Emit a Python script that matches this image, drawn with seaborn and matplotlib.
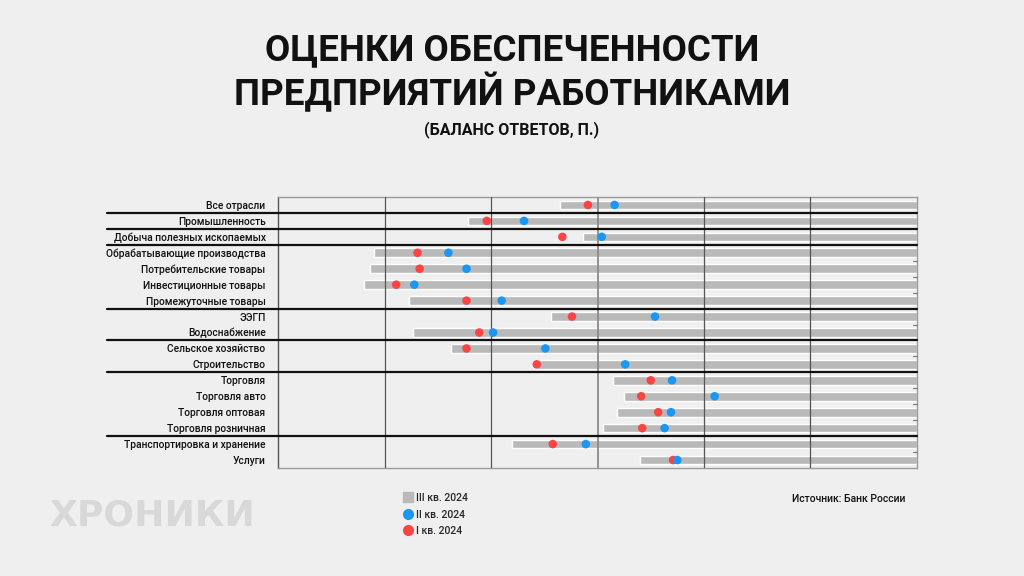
import matplotlib
matplotlib.use("Agg")
import matplotlib.pyplot as plt
import seaborn as sns
import pandas as pd
import numpy as np
from matplotlib.lines import Line2D

categories = ["Все отрасли", "Промышленность", "Добыча полезных ископаемых",
              "Обрабатывающие производства", "Потребительские товары",
              "Инвестиционные товары", "Промежуточные товары", "ЭЭГП",
              "Водоснабжение", "Сельское хозяйство", "Строительство",
              "Торговля", "Торговля авто", "Торговля оптовая",
              "Торговля розничная", "Транспортировка и хранение", "Услуги"]
q3_2024 = [-3.5, -12.2, -1.4, -21.0, -21.4, -21.9, -17.7, -4.4, -17.3,
           -13.8, -5.7, 1.5, 2.5, 1.8, 0.5, -8.0, 4.0]
q2_2024 = [1.6, -6.9, 0.4, -14.0, -12.3, -17.2, -9.0, 5.4, -9.8,
           -4.9, 2.6, 7.0, 11.0, 6.9, 6.3, -1.1, 7.5]
q1_2024 = [-0.9, -10.4, -3.3, -16.9, -16.7, -18.9, -12.3, -2.4, -11.1,
           -12.3, -5.7, 5.0, 4.1, 5.7, 4.2, -4.2, 7.1]
group_breaks = [1, 2, 3, 7, 9, 11, 15]  # separator after these many rows
legend_labels = ["III кв. 2024", "II кв. 2024", "I кв. 2024"]

BG = "#efefef"
GREY = "#b9b9b9"
BLUE = "#1a96f5"
RED = "#fb4444"
FONT = ["Roboto", "DejaVu Sans"]

sns.set_theme(style="white")
plt.rcParams["font.family"] = FONT

fig = plt.figure(figsize=(10.24, 5.76), dpi=100, facecolor=BG)
ax = fig.add_axes([0.2715, 0.1875, 0.624, 0.4705], facecolor=BG)

n = len(categories)
ypos = np.arange(n)
XMIN, XMAX = -30, 30

ax.barh(ypos, [XMAX - v for v in q3_2024], left=q3_2024, height=0.54,
        color=GREY, zorder=2)

df = pd.DataFrame({"cat": categories, "y": ypos, "q1": q1_2024, "q2": q2_2024})
sns.scatterplot(data=df, x="q1", y="y", ax=ax, color=RED, s=38,
                edgecolor="none", zorder=4, legend=False)
sns.scatterplot(data=df, x="q2", y="y", ax=ax, color=BLUE, s=38,
                edgecolor="none", zorder=5, legend=False)

ax.set_xlim(XMIN, XMAX)
ax.set_ylim(n - 0.5, -0.5)
ax.set_xticks(np.arange(-20, 30, 10))
ax.set_xticklabels([])
ax.tick_params(axis="x", length=0)
for xv in np.arange(-20, 30, 10):
    ax.axvline(xv, color="#555555" if xv != 0 else "#8a8a8a",
               lw=0.9 if xv != 0 else 1.3, zorder=3)

ax.set_yticks(ypos)
ax.set_yticklabels(categories, fontsize=7.4, fontweight="medium",
                   color="#111111")
ax.tick_params(axis="y", length=0, pad=9)
ax.set_xlabel("")
ax.set_ylabel("")

for side in ["top", "right", "bottom", "left"]:
    ax.spines[side].set_color("#9a9a9a")
    ax.spines[side].set_linewidth(1.0)
ax.spines["left"].set_color("#555555")

# small right-side ticks between rows without separators
minor = [i + 0.5 for i in range(n - 1) if (i + 1) not in group_breaks]
for yv in minor:
    ax.plot([XMAX - 0.35, XMAX], [yv, yv], color="#777777", lw=0.8,
            zorder=5, clip_on=False)

# group separators extending into label area
trans = ax.get_yaxis_transform()
for b in group_breaks:
    ax.plot([-0.268, 1.0], [b - 0.5, b - 0.5], transform=trans,
            color="#111111", lw=1.6, clip_on=False, zorder=6)

# titles
fig.text(0.5, 0.913, "ОЦЕНКИ ОБЕСПЕЧЕННОСТИ", ha="center", va="center",
         fontsize=26.5, fontweight="bold", color="#111111")
fig.text(0.5, 0.839, "ПРЕДПРИЯТИЙ РАБОТНИКАМИ", ha="center", va="center",
         fontsize=26.5, fontweight="bold", color="#111111")
fig.text(0.5, 0.775, "(БАЛАНС ОТВЕТОВ, П.)", ha="center", va="center",
         fontsize=11.5, fontweight="bold", color="#111111")

# legend
handles = [Line2D([], [], marker="s", ls="none", color=GREY, markersize=6.5),
           Line2D([], [], marker="o", ls="none", color=BLUE, markersize=7),
           Line2D([], [], marker="o", ls="none", color=RED, markersize=7)]
fig.legend(handles, legend_labels, loc="upper left",
           bbox_to_anchor=(0.3945, 0.144), frameon=False,
           handletextpad=0.35, labelspacing=0.62, handlelength=0.8,
           borderaxespad=0, borderpad=0, prop={"weight": "medium", "size": 7.5})
fig.text(0.884, 0.133, "Источник: Банк России", ha="right", va="center",
         fontsize=7.5, fontweight="medium", color="#111111")

# watermark
fig.text(0.048, 0.105, "ХРОНИКИ", ha="left", va="center",
         fontsize=26, fontweight="bold", color="#d8d8d8",
         family=["DejaVu Sans"])

fig.savefig("out.png", dpi=100, facecolor=BG)
